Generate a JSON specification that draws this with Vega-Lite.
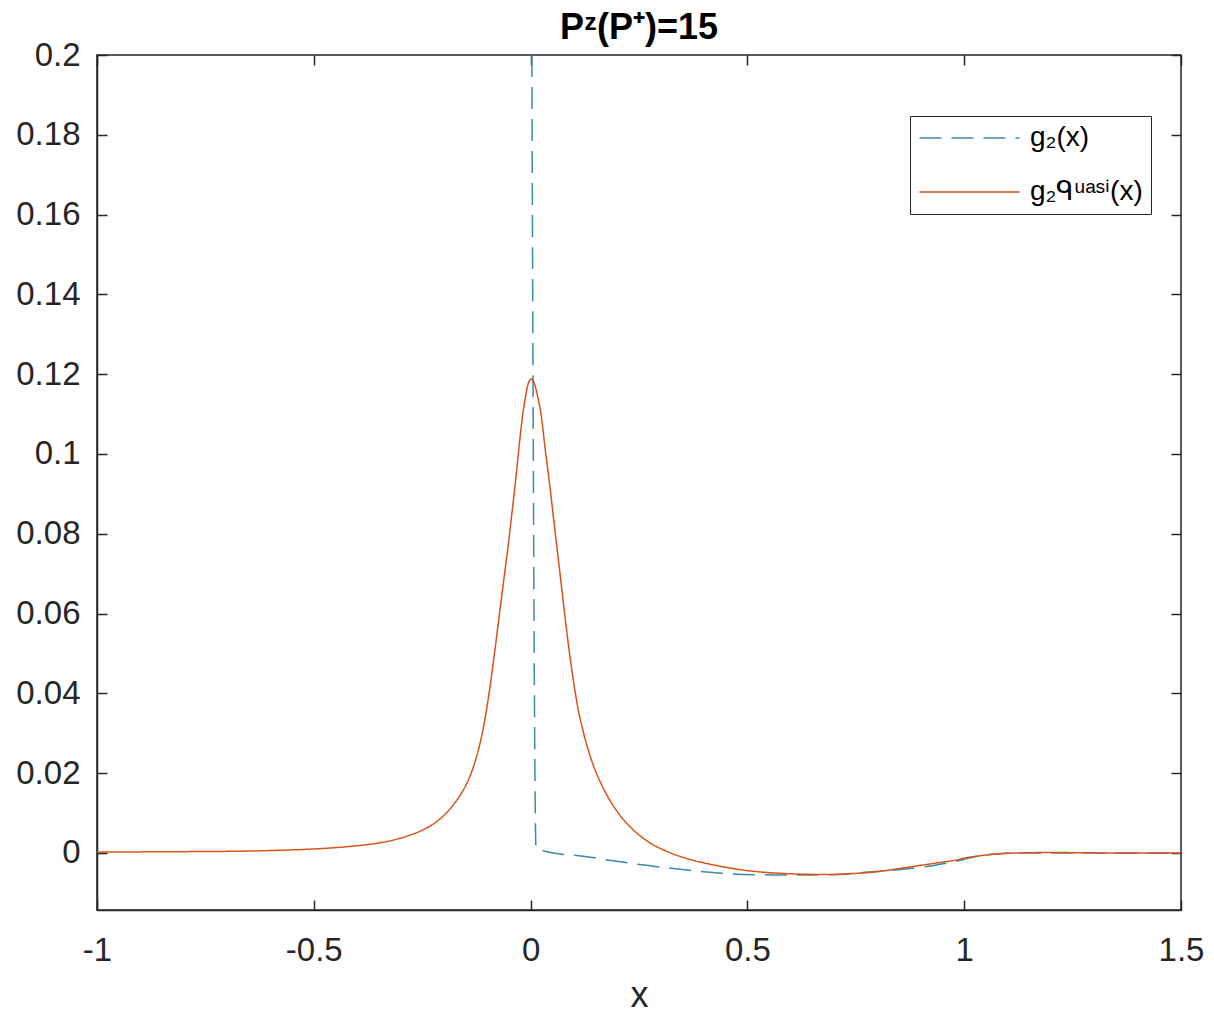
{
  "$schema": "https://vega.github.io/schema/vega-lite/v6.json",
  "width": 1084,
  "height": 855,
  "autosize": {"type": "none"},
  "padding": {"left": 97, "top": 55, "right": 33, "bottom": 105},
  "background": "white",
  "config": {
    "view": {"stroke": "#262626", "strokeWidth": 1.5},
    "font": "Liberation Sans",
    "axis": {
      "domainColor": "#262626",
      "domainWidth": 1.5,
      "tickColor": "#262626",
      "tickWidth": 1.5,
      "tickSize": -10,
      "labelColor": "#262626",
      "labelFont": "Liberation Sans",
      "labelFontSize": 33,
      "labelFlush": false,
      "grid": false,
      "titleFont": "Liberation Sans",
      "titleFontSize": 36,
      "titleFontWeight": "normal",
      "titleColor": "#262626"
    }
  },
  "title": {
    "text": "Pᶻ(P⁺)=15",
    "fontSize": 36,
    "fontWeight": "bold",
    "font": "Liberation Sans",
    "color": "#000000",
    "offset": -8
  },
  "datasets": {
    "curves": [
      {"series": "g2", "x": 0.0029, "y": 0.2},
      {"series": "g2", "x": 0.0125, "y": 0.0012},
      {"series": "g2", "x": 0.044, "y": 0.0002},
      {"series": "g2", "x": 0.12, "y": -0.0008},
      {"series": "g2", "x": 0.198, "y": -0.0021},
      {"series": "g2", "x": 0.267, "y": -0.0031},
      {"series": "g2", "x": 0.344, "y": -0.0041},
      {"series": "g2", "x": 0.42, "y": -0.0049},
      {"series": "g2", "x": 0.49, "y": -0.0054},
      {"series": "g2", "x": 0.567, "y": -0.0055},
      {"series": "g2", "x": 0.643, "y": -0.0055},
      {"series": "g2", "x": 0.713, "y": -0.0054},
      {"series": "g2", "x": 0.78, "y": -0.0048},
      {"series": "g2", "x": 0.858, "y": -0.0041},
      {"series": "g2", "x": 0.936, "y": -0.003},
      {"series": "g2", "x": 0.98, "y": -0.0021},
      {"series": "g2", "x": 1.0, "y": -0.0016},
      {"series": "g2", "x": 1.03, "y": -0.0008},
      {"series": "g2", "x": 1.07, "y": -0.0003},
      {"series": "g2", "x": 1.12, "y": 0.0},
      {"series": "g2", "x": 1.5, "y": 0.0},
      {"series": "quasi", "x": -1.0, "y": 0.0002},
      {"series": "quasi", "x": -0.85, "y": 0.0003},
      {"series": "quasi", "x": -0.7, "y": 0.0004},
      {"series": "quasi", "x": -0.6, "y": 0.0006},
      {"series": "quasi", "x": -0.5, "y": 0.001},
      {"series": "quasi", "x": -0.42, "y": 0.0016},
      {"series": "quasi", "x": -0.35, "y": 0.0025},
      {"series": "quasi", "x": -0.31, "y": 0.0034},
      {"series": "quasi", "x": -0.28, "y": 0.0044},
      {"series": "quasi", "x": -0.25, "y": 0.0057},
      {"series": "quasi", "x": -0.22, "y": 0.0076},
      {"series": "quasi", "x": -0.2, "y": 0.0094},
      {"series": "quasi", "x": -0.18, "y": 0.0118},
      {"series": "quasi", "x": -0.16, "y": 0.0149},
      {"series": "quasi", "x": -0.15, "y": 0.0168},
      {"series": "quasi", "x": -0.14, "y": 0.0192},
      {"series": "quasi", "x": -0.13, "y": 0.0222},
      {"series": "quasi", "x": -0.12, "y": 0.026},
      {"series": "quasi", "x": -0.11, "y": 0.0308},
      {"series": "quasi", "x": -0.1, "y": 0.037},
      {"series": "quasi", "x": -0.09, "y": 0.0445},
      {"series": "quasi", "x": -0.081, "y": 0.052},
      {"series": "quasi", "x": -0.0715, "y": 0.0602},
      {"series": "quasi", "x": -0.062, "y": 0.0683},
      {"series": "quasi", "x": -0.052, "y": 0.0768},
      {"series": "quasi", "x": -0.042, "y": 0.0862},
      {"series": "quasi", "x": -0.033, "y": 0.095},
      {"series": "quasi", "x": -0.025, "y": 0.1035},
      {"series": "quasi", "x": -0.018, "y": 0.11},
      {"series": "quasi", "x": -0.012, "y": 0.1142},
      {"series": "quasi", "x": -0.005, "y": 0.1178},
      {"series": "quasi", "x": 0.002, "y": 0.1188},
      {"series": "quasi", "x": 0.01, "y": 0.1172},
      {"series": "quasi", "x": 0.018, "y": 0.1135},
      {"series": "quasi", "x": 0.0247, "y": 0.1095},
      {"series": "quasi", "x": 0.033, "y": 0.1018},
      {"series": "quasi", "x": 0.0438, "y": 0.0925},
      {"series": "quasi", "x": 0.053, "y": 0.0838},
      {"series": "quasi", "x": 0.063, "y": 0.0745},
      {"series": "quasi", "x": 0.0705, "y": 0.0675},
      {"series": "quasi", "x": 0.0784, "y": 0.06},
      {"series": "quasi", "x": 0.088, "y": 0.0515},
      {"series": "quasi", "x": 0.0976, "y": 0.044},
      {"series": "quasi", "x": 0.108, "y": 0.037},
      {"series": "quasi", "x": 0.12, "y": 0.031},
      {"series": "quasi", "x": 0.133, "y": 0.0258},
      {"series": "quasi", "x": 0.148, "y": 0.021},
      {"series": "quasi", "x": 0.165, "y": 0.0168},
      {"series": "quasi", "x": 0.185, "y": 0.0128},
      {"series": "quasi", "x": 0.205, "y": 0.0096},
      {"series": "quasi", "x": 0.23, "y": 0.0065},
      {"series": "quasi", "x": 0.255, "y": 0.0041},
      {"series": "quasi", "x": 0.28, "y": 0.0022},
      {"series": "quasi", "x": 0.31, "y": 0.0006},
      {"series": "quasi", "x": 0.34, "y": -0.0007},
      {"series": "quasi", "x": 0.37, "y": -0.0017},
      {"series": "quasi", "x": 0.4, "y": -0.0025},
      {"series": "quasi", "x": 0.45, "y": -0.0036},
      {"series": "quasi", "x": 0.505, "y": -0.0045},
      {"series": "quasi", "x": 0.56, "y": -0.005},
      {"series": "quasi", "x": 0.62, "y": -0.0053},
      {"series": "quasi", "x": 0.68, "y": -0.0054},
      {"series": "quasi", "x": 0.736, "y": -0.0052},
      {"series": "quasi", "x": 0.8, "y": -0.0047},
      {"series": "quasi", "x": 0.851, "y": -0.0039},
      {"series": "quasi", "x": 0.9, "y": -0.0031},
      {"series": "quasi", "x": 0.95, "y": -0.0023},
      {"series": "quasi", "x": 0.98, "y": -0.0018},
      {"series": "quasi", "x": 1.0, "y": -0.0013},
      {"series": "quasi", "x": 1.03, "y": -0.0008},
      {"series": "quasi", "x": 1.07, "y": -0.0003},
      {"series": "quasi", "x": 1.12, "y": 0.0},
      {"series": "quasi", "x": 1.2, "y": 0.0001},
      {"series": "quasi", "x": 1.35, "y": 0.0},
      {"series": "quasi", "x": 1.5, "y": 0.0}
    ]
  },
  "data": {"name": "curves"},
  "layer": [
    {
      "mark": {"type": "line", "clip": true, "strokeWidth": 1.5, "interpolate": "monotone"},
      "encoding": {
        "x": {
          "field": "x", "type": "quantitative",
          "scale": {"domain": [-1, 1.5], "nice": false, "zero": false},
          "axis": {
            "orient": "bottom",
            "values": [-1, -0.5, 0, 0.5, 1, 1.5],
            "labelExpr": "datum.value + ''",
            "labelPadding": 34,
            "title": "x",
            "titlePadding": 11
          }
        },
        "y": {
          "field": "y", "type": "quantitative",
          "scale": {"domain": [-0.0143, 0.2], "nice": false, "zero": false},
          "axis": {
            "orient": "left",
            "values": [0, 0.02, 0.04, 0.06, 0.08, 0.1, 0.12, 0.14, 0.16, 0.18, 0.2],
            "labelExpr": "datum.value + ''",
            "labelPadding": 27,
            "title": null
          }
        },
        "color": {
          "field": "series", "type": "nominal",
          "scale": {"domain": ["g2", "quasi"], "range": ["#3b8aa6", "#D95319"]},
          "legend": {
            "orient": "none",
            "legendX": 813,
            "legendY": 61,
            "title": null,
            "strokeColor": "#262626",
            "fillColor": "white",
            "padding": 8,
            "symbolType": "M-1,0H7",
            "symbolSize": 625,
            "symbolStrokeWidth": 1.5,
            "labelFontSize": 28,
            "labelFont": "Liberation Sans",
            "labelColor": "#000000",
            "rowPadding": 26,
            "labelOffset": 84,
            "labelExpr": "datum.label == 'g2' ? 'g₂(x)' : 'g₂ᑫᵘᵃˢⁱ(x)'"
          }
        },
        "strokeDash": {
          "field": "series", "type": "nominal",
          "scale": {"domain": ["g2", "quasi"], "range": [[22, 10], [1, 0]]},
          "legend": {
            "orient": "none",
            "legendX": 813,
            "legendY": 61,
            "title": null,
            "strokeColor": "#262626",
            "fillColor": "white",
            "padding": 8,
            "symbolType": "M-1,0H7",
            "symbolSize": 625,
            "symbolStrokeWidth": 1.5,
            "labelFontSize": 28,
            "labelFont": "Liberation Sans",
            "labelColor": "#000000",
            "rowPadding": 26,
            "labelOffset": 84,
            "labelExpr": "datum.label == 'g2' ? 'g₂(x)' : 'g₂ᑫᵘᵃˢⁱ(x)'"
          }
        }
      }
    },
    {
      "mark": {"type": "point", "opacity": 0},
      "encoding": {
        "x": {
          "field": "x", "type": "quantitative",
          "scale": {"domain": [-1, 1.5], "nice": false, "zero": false},
          "axis": {"orient": "top", "values": [-1, -0.5, 0, 0.5, 1, 1.5], "labels": false, "domain": false, "title": null}
        },
        "y": {
          "field": "y", "type": "quantitative",
          "scale": {"domain": [-0.0143, 0.2], "nice": false, "zero": false},
          "axis": {"orient": "right", "values": [0, 0.02, 0.04, 0.06, 0.08, 0.1, 0.12, 0.14, 0.16, 0.18, 0.2], "labels": false, "domain": false, "title": null}
        }
      }
    }
  ],
  "resolve": {"axis": {"x": "independent", "y": "independent"}}
}
